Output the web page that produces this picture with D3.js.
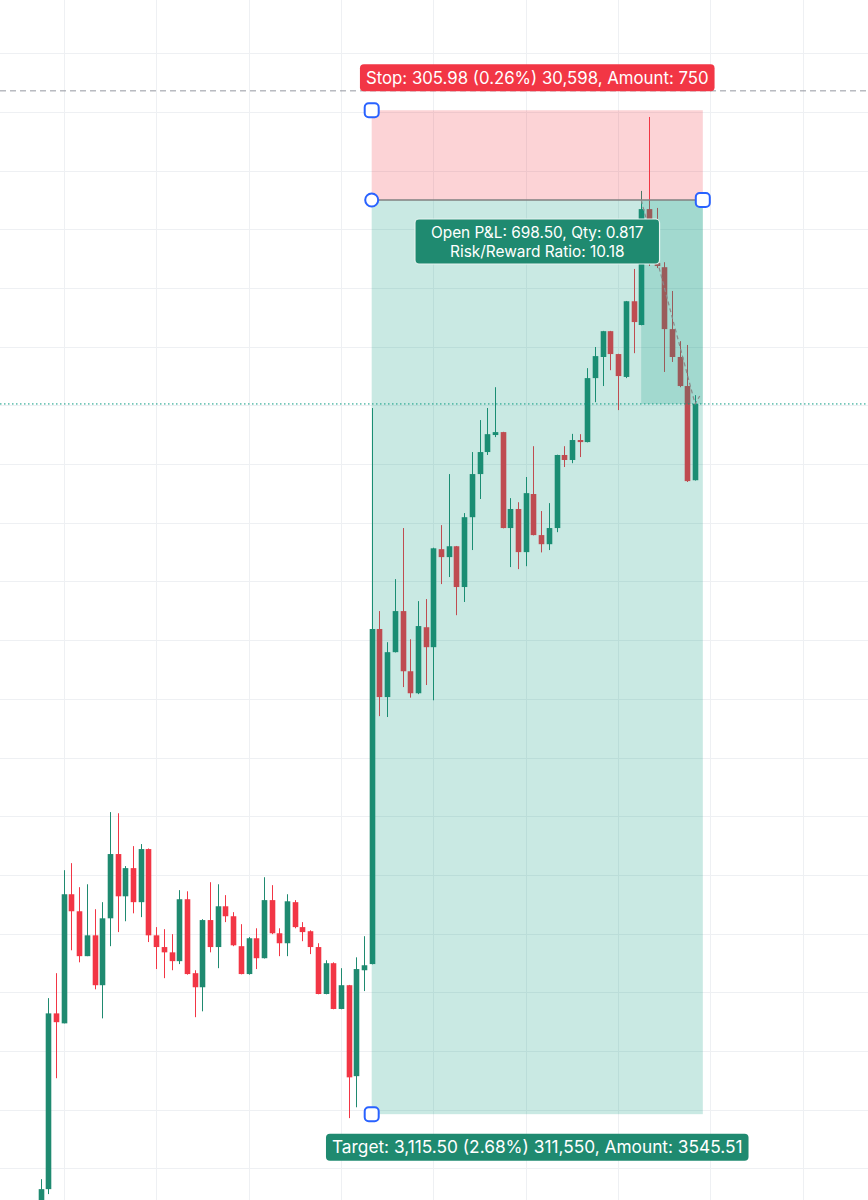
<!DOCTYPE html>
<html><head><meta charset="utf-8">
<script src="https://cdn.jsdelivr.net/npm/d3@7"></script>
<style>html,body{margin:0;padding:0;background:#fff;} svg{display:block;}</style>
</head><body>
<svg id="chart" width="868" height="1200"></svg>
<script>
// ---- data ----
const opens = [112840,112929,113528,113494,113934,113876,113723,113794,113624,113852,114071,113927,114023,113907,114088,113794,113754,113736,113706,113917,113665,113617,113846,113754,113893,113859,113757,113662,113784,113716,113914,113801,113767,113907,113822,113808,113754,113594,113699,113543,113624,113314,113675,113696,114838,114606,114759,114899,114694,114619,114844,114776,115110,115083,115120,114981,115219,115366,115441,115499,115509,115182,115247,115100,115298,115158,115127,115182,115431,115414,115482,115475,115693,115765,115853,115775,115697,115955,115874,116269,116085,116071,115860,115765,115666,115345];
const highs = [112963,113580,113665,114016,114040,113958,113968,113883,113907,114214,114210,114030,114098,114105,114090,113822,113815,113798,113948,113944,113675,113849,113975,113968,113931,113873,113832,113788,113818,113992,113965,113818,113934,113914,113839,113811,113767,113709,113702,113682,113625,113719,113791,115591,114899,114793,115008,115182,114803,114933,114940,115115,115192,115366,115121,115233,115441,115550,115591,115662,115510,115284,115270,115356,115461,115240,115267,115432,115461,115503,115502,115727,115799,115854,115854,115776,115956,116065,116331,116583,116273,116088,115990,115819,115806,115635];
const lows = [112806,112912,113307,113494,113743,113702,113723,113610,113511,113757,113805,113842,113869,113856,113771,113679,113648,113675,113696,113660,113515,113535,113736,113682,113839,113757,113661,113660,113679,113715,113798,113723,113723,113818,113774,113730,113593,113593,113542,113542,113171,113208,113604,113695,114541,114538,114758,114640,114604,114616,114647,114595,114991,115015,114885,114930,115107,115281,115431,115492,115181,115049,115042,115052,115157,115099,115107,115168,115390,115403,115424,115474,115611,115666,115720,115584,115693,115778,115873,116075,116068,115714,115748,115662,115339,115344];
const closes = [112929,113528,113498,113934,113876,113723,113794,113624,113852,114071,113927,114023,113907,114088,113794,113754,113736,113706,113917,113662,113617,113846,113754,113893,113859,113760,113662,113784,113716,113914,113801,113767,113910,113822,113805,113754,113594,113699,113543,113624,113310,113679,113692,114838,114606,114759,114899,114694,114619,114848,114776,115113,115083,115120,114981,115219,115366,115441,115502,115509,115182,115247,115100,115301,115158,115127,115182,115431,115414,115482,115475,115693,115768,115853,115775,115700,115955,115884,116269,116085,116075,115860,115765,115666,115342,115605];

const entryPrice = 116300.00, stopPrice = 116605.98, targetPrice = 113184.50;
const positionStartBar = 43, positionEndBar = 86, entryFillBar = 78;
const pricelinePrice = 116672;            // grey dashed horizontal line
const pathBars = [78, 85, 85.6];          // dashed trajectory
const pathPrices = [116300, 115605, 115632];
const gridPrices = d3.range(113000, 116801, 200);
const gridBars = d3.range(3, 100, 12);
const stopLabel = "Stop: 305.98 (0.26%) 30,598, Amount: 750";
const targetLabel = "Target: 3,115.50 (2.68%) 311,550, Amount: 3545.51";
const pnlLines = ["Open P&L: 698.50, Qty: 0.817", "Risk/Reward Ratio: 10.18"];

// ---- drawing ----
const W = 868, H = 1200;
const UP = "#1f8a70", DOWN = "#f23645", TEAL = "#089981", BLUE = "#2962ff";
const FONT = "Inter, 'Noto Sans', sans-serif";
const svg = d3.select("#chart");
const x = d3.scaleLinear().domain([0, 85]).range([40.6, 695.1]);
const y = d3.scaleLinear().domain([113000, 116800]).range([1168.3, 53.3]);

const bars = opens.map((o, i) => ({i, o, h: highs[i], l: lows[i], c: closes[i]}));

// grid
const grid = svg.append("g").attr("stroke", "#eef0f3").attr("stroke-width", 1);
grid.selectAll(".gy").data(gridPrices).join("line")
  .attr("x1", 0).attr("x2", W)
  .attr("y1", d => Math.round(y(d)) + 0.5).attr("y2", d => Math.round(y(d)) + 0.5);
grid.selectAll(".gx").data(gridBars).join("line")
  .attr("y1", 0).attr("y2", H)
  .attr("x1", d => Math.round(x(d)) + 0.5).attr("x2", d => Math.round(x(d)) + 0.5);

// candles
const bw = 5.6;
const cg = svg.append("g");
cg.selectAll("line.w").data(bars).join("line")
  .attr("x1", d => Math.round(x(d.i)) + 0.5).attr("x2", d => Math.round(x(d.i)) + 0.5)
  .attr("y1", d => y(d.h)).attr("y2", d => y(d.l))
  .attr("stroke", d => d.c >= d.o ? UP : DOWN).attr("stroke-width", 1);
cg.selectAll("rect.b").data(bars).join("rect")
  .attr("x", d => Math.round(x(d.i)) + 0.5 - bw / 2)
  .attr("width", bw)
  .attr("y", d => y(Math.max(d.o, d.c)))
  .attr("height", d => Math.max(1, Math.abs(y(d.o) - y(d.c))))
  .attr("fill", d => d.c >= d.o ? UP : DOWN);

// price lines
const last = closes[closes.length - 1];
svg.append("line").attr("x1", 0).attr("x2", W)
  .attr("y1", y(last)).attr("y2", y(last))
  .attr("stroke", TEAL).attr("stroke-width", 1).attr("stroke-dasharray", "1.5,2.5");
svg.append("line").attr("x1", 0).attr("x2", W)
  .attr("y1", y(pricelinePrice)).attr("y2", y(pricelinePrice))
  .attr("stroke", "#9598a1").attr("stroke-width", 1).attr("stroke-dasharray", "6,4");

// position zones
const px0 = x(positionStartBar), px1 = x(positionEndBar);
svg.append("rect").attr("x", px0).attr("width", px1 - px0)
  .attr("y", y(stopPrice)).attr("height", y(entryPrice) - y(stopPrice))
  .attr("fill", DOWN).attr("fill-opacity", 0.22);
svg.append("rect").attr("x", px0).attr("width", px1 - px0)
  .attr("y", y(entryPrice)).attr("height", y(targetPrice) - y(entryPrice))
  .attr("fill", TEAL).attr("fill-opacity", 0.22);
svg.append("rect").attr("x", x(entryFillBar)).attr("width", px1 - x(entryFillBar))
  .attr("y", y(entryPrice)).attr("height", y(last) - y(entryPrice))
  .attr("fill", TEAL).attr("fill-opacity", 0.2);
svg.append("line").attr("x1", px0).attr("x2", px1)
  .attr("y1", y(entryPrice)).attr("y2", y(entryPrice))
  .attr("stroke", "#808080").attr("stroke-width", 1.5);

// trajectory
svg.append("path")
  .attr("d", d3.line()(pathBars.map((b, k) => [x(b), y(pathPrices[k])])))
  .attr("fill", "none").attr("stroke", "#8a8a8a").attr("stroke-width", 1.2)
  .attr("stroke-dasharray", "4,3");

// handles
function sq(cx, cy) {
  svg.append("rect").attr("x", cx - 7).attr("y", cy - 7).attr("width", 14).attr("height", 14)
    .attr("rx", 4).attr("fill", "#fff").attr("stroke", BLUE).attr("stroke-width", 2);
}
sq(px0, y(stopPrice));
sq(px1, y(entryPrice));
sq(px0, y(targetPrice));
svg.append("circle").attr("cx", px0).attr("cy", y(entryPrice)).attr("r", 6.5)
  .attr("fill", "#fff").attr("stroke", BLUE).attr("stroke-width", 2);

// labels
const cx = (px0 + px1) / 2;
function label(lines, cy, fill, fs, lh, padX, boxH, border) {
  const g = svg.append("g");
  const rect = g.append("rect");
  const texts = lines.map((s, k) => g.append("text")
    .attr("font-family", FONT).attr("font-size", fs)
    .attr("fill", "#fff").attr("text-anchor", "middle")
    .attr("x", cx).attr("y", cy + (k - (lines.length - 1) / 2) * lh)
    .attr("dy", "0.36em").text(s));
  const w = d3.max(texts, t => t.node().getComputedTextLength()) + padX * 2;
  rect.attr("x", cx - w / 2).attr("y", cy - boxH / 2).attr("width", w).attr("height", boxH)
    .attr("rx", 4).attr("fill", fill);
  if (border) rect.attr("stroke", "#e8f4f1").attr("stroke-width", 1.2);
}
label([stopLabel], y(stopPrice) - 32.5, DOWN, 16.8, 0, 6, 27);
label([targetLabel], y(targetPrice) + 33, UP, 17.3, 0, 6, 27);
label(pnlLines, y(entryPrice) + 41.5, UP, 15.4, 19, 16, 45, true);
</script>
</body></html>
